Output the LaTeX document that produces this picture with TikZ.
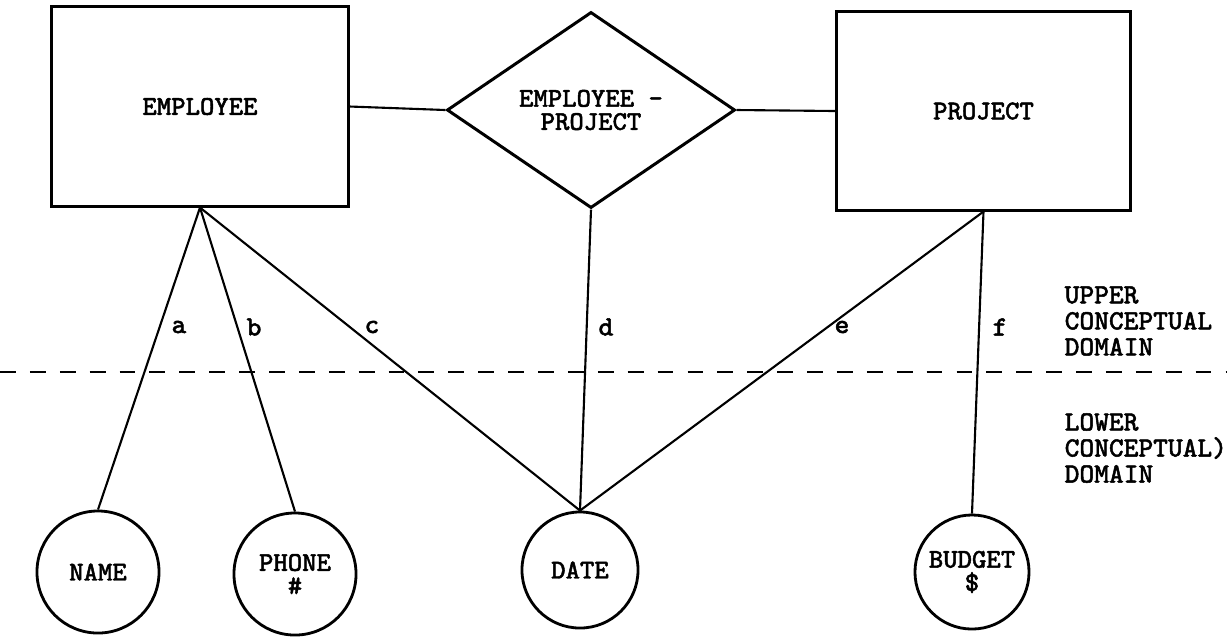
\documentclass[tikz,border=0pt]{standalone}
\usepackage{fontspec}
\usetikzlibrary{shapes.geometric}
\newfontfamily\typewr[FakeBold=1.8]{Latin Modern Mono}
\begin{document}
\begin{tikzpicture}[x=0.01cm,y=-0.01cm,
  every node/.style={font=\fontsize{7.7}{6.6}\selectfont\typewr},
  entbox/.style={draw,line width=0.85pt,inner sep=0pt},
  relbox/.style={diamond,draw,line width=0.85pt,inner sep=0pt,align=center},
  attr/.style={circle,draw,line width=0.8pt,inner sep=0pt,align=center},
  link/.style={line width=0.6pt},
  lbl/.style={font=\fontsize{7.9}{8}\selectfont\typewr},
  domtext/.style={anchor=west,align=left,inner xsep=0pt,font=\fontsize{7.9}{7.4}\selectfont\typewr},
  divider/.style={line width=0.6pt,dash pattern=on 4.5pt off 4pt}]
\useasboundingbox (0,0) rectangle (1227,638);

% entities and relationship
\node[entbox,minimum width=2.96cm,minimum height=1.99cm] (emp) at (200,106.5) {EMPLOYEE};
\node[relbox,minimum width=2.88cm,minimum height=1.96cm] (ep) at (591,110) {EMPLOYEE -\\PROJECT};
\node[entbox,minimum width=2.93cm,minimum height=1.98cm] (proj) at (983.5,111) {PROJECT};

% attribute domains
\node[attr,minimum size=1.22cm] (name) at (98,572) {NAME};
\node[attr,minimum size=1.22cm] (phone) at (295,574) {PHONE\\\#};
\node[attr,minimum size=1.16cm] (date) at (580,570) {DATE};
\node[attr,minimum size=1.14cm] (budget) at (972,572) {BUDGET\\\$};

% relationship links
\draw[link] (emp.east) -- (ep.west);
\draw[link] (ep.east) -- (proj.west);

% attribute links
\draw[link] (emp.south) -- (name.north);
\draw[link] (emp.south) -- (phone.north);
\draw[link] (emp.south) -- (date.north);
\draw[link] (ep.south) -- (date.north);
\draw[link] (proj.south) -- (date.north);
\draw[link] (proj.south) -- (budget.north);

% link labels
\node[lbl] (la) at (179,327) {a};
\node[lbl] (lb) at (254,327) {b};
\node[lbl] (lc) at (372,327) {c};
\node[lbl] (ld) at (606,327) {d};
\node[lbl] (le) at (842,327) {e};
\node[lbl] (lf) at (1000,327) {f};

% domain boundary
\coordinate (dl) at (0,372);
\coordinate (dr) at (1227,372);
\draw[divider] (dl) -- (dr);

\node[domtext] (upper) at (1064,321) {UPPER\\CONCEPTUAL\\DOMAIN};
\node[domtext] (lower) at (1064,448) {LOWER\\CONCEPTUAL)\\DOMAIN};
\end{tikzpicture}
\end{document}
